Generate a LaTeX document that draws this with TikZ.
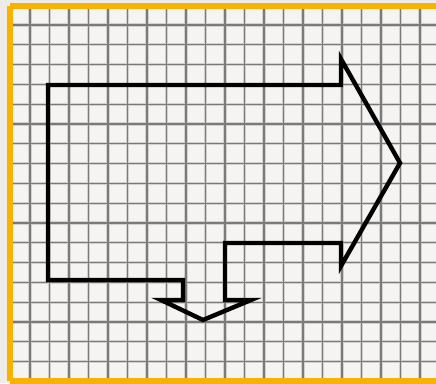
\documentclass[tikz,border=0pt]{standalone}
\definecolor{frameorange}{RGB}{250,178,0}
\definecolor{paper}{RGB}{246,244,242}
\definecolor{outside}{RGB}{238,236,232}
\tikzset{
  gridsoft/.style={line width=3.2pt, draw=black!18},
  gridline/.style={line width=1.3pt, draw=black!52},
  shapeline/.style={line width=4.4pt, draw=black, line join=miter, miter limit=10}
}
\begin{document}
\begin{tikzpicture}[x=1pt,y=-1pt]
\useasboundingbox (0,0) rectangle (436,383);
\fill[outside] (0,0) rectangle (436,383);
\fill[paper] (10,6) rectangle (440,381);
% grid
\foreach \i in {0,...,20} {
  \draw[gridsoft] ({30+19.5*\i},9) -- ({30+19.5*\i},378);
}
\foreach \j in {0,...,17} {
  \draw[gridsoft] (13,{25+19.8*\j}) -- (436,{25+19.8*\j});
}
\foreach \i in {0,...,20} {
  \draw[gridline] ({30+19.5*\i},9) -- ({30+19.5*\i},378);
}
\foreach \j in {0,...,17} {
  \draw[gridline] (13,{25+19.8*\j}) -- (436,{25+19.8*\j});
}
% frame
\draw[frameorange, line width=6pt] (10,6) -- (440,6);
\draw[frameorange, line width=6pt] (10,6) -- (10,381);
\draw[frameorange, line width=6pt] (10,381) -- (440,381);
% arrow shape
\coordinate (a) at (48,85);
\coordinate (b) at (341,85);
\coordinate (c) at (341,59);
\coordinate (tip) at (400,163);
\coordinate (d) at (341,266);
\coordinate (e) at (341,243);
\coordinate (f) at (225,243);
\coordinate (g) at (225,300);
\coordinate (h) at (251,300);
\coordinate (dtip) at (203,320);
\coordinate (i) at (161,300);
\coordinate (j) at (183,300);
\coordinate (k) at (183,280);
\coordinate (l) at (48,280);
\draw[shapeline] (a) -- (b) -- (c) -- (tip) -- (d) -- (e) -- (f) -- (g) -- (h) -- (dtip) -- (i) -- (j) -- (k) -- (l) -- cycle;
\end{tikzpicture}
\end{document}
